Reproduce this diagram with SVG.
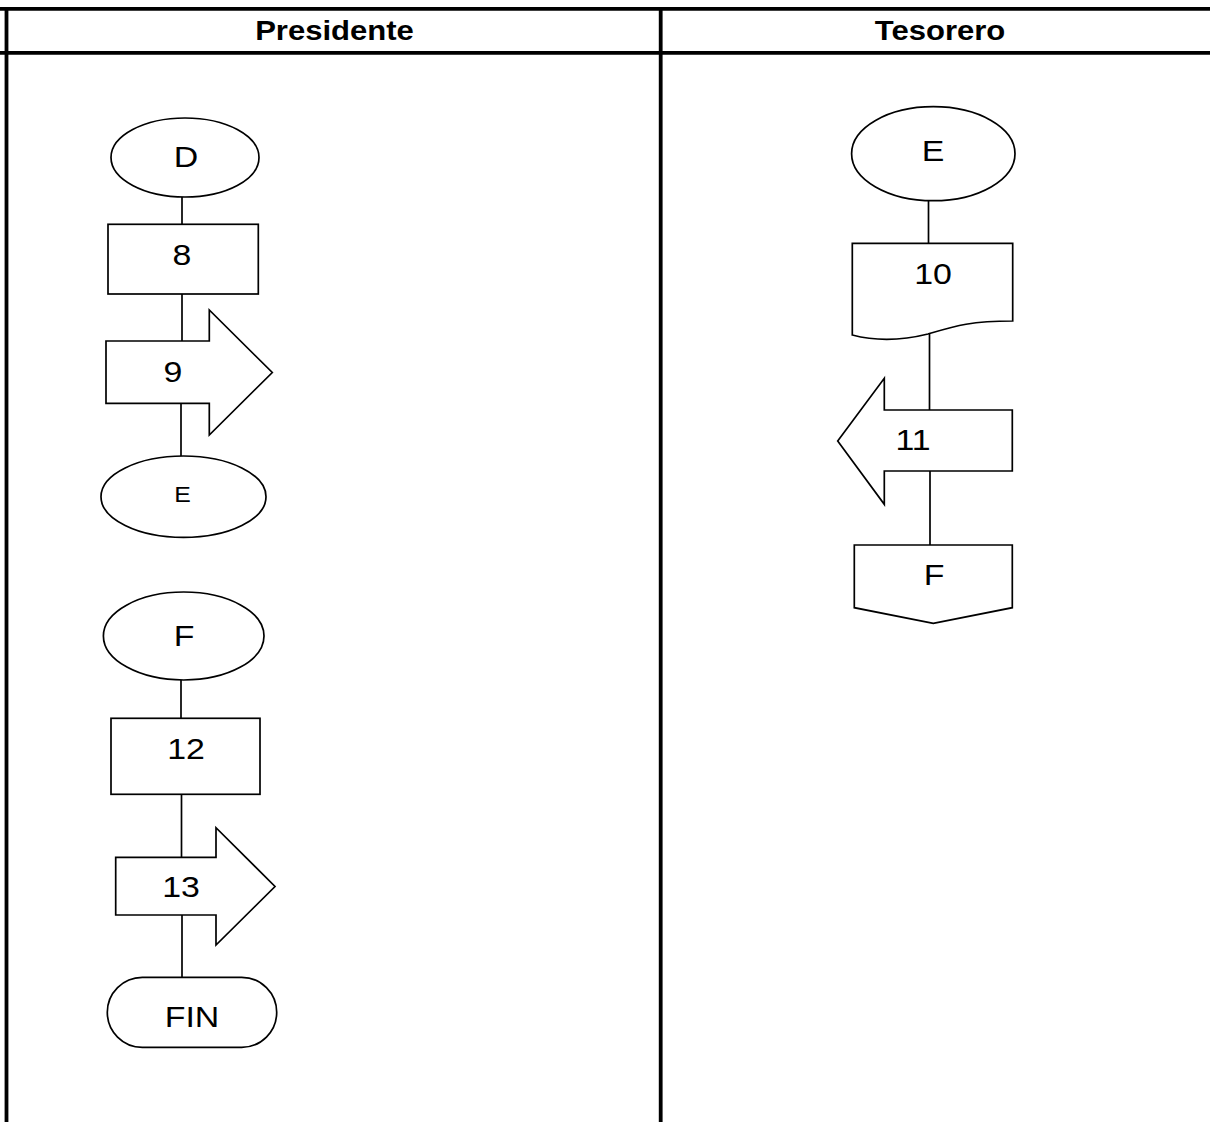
<svg xmlns="http://www.w3.org/2000/svg" width="1210" height="1122" viewBox="0 0 1210 1122">
<style>
.frame{stroke:#000;stroke-width:3.8;fill:none}
.shape{fill:#fff;stroke:#000;stroke-width:1.7}
.conn{stroke:#000;stroke-width:1.7;fill:none}
.hd{font-family:"Liberation Sans",Arial,sans-serif;font-weight:bold;font-size:27px;text-anchor:middle;fill:#000}
.lb{font-family:"Liberation Sans",Arial,sans-serif;font-size:30px;text-anchor:middle;fill:#000}
.sm{font-family:"Liberation Sans",Arial,sans-serif;font-size:22px;text-anchor:middle;fill:#000}
</style>
<rect width="1210" height="1122" fill="#fff"/>
<g id="swimlanes">
<line class="frame" x1="0" y1="8.8" x2="1210" y2="8.8"/>
<line class="frame" x1="0" y1="52.8" x2="1210" y2="52.8"/>
<line class="frame" x1="6.5" y1="7" x2="6.5" y2="1122"/>
<line class="frame" x1="660.7" y1="7" x2="660.7" y2="1122"/>
<text class="hd" transform="translate(334.5,40) scale(1.15,1)">Presidente</text>
<text class="hd" transform="translate(940,40) scale(1.15,1)">Tesorero</text>
</g>
<g id="connectors">
<line class="conn" x1="182" y1="197" x2="182" y2="224"/>
<line class="conn" x1="182" y1="294" x2="182" y2="341"/>
<line class="conn" x1="181" y1="403" x2="181" y2="456"/>
<line class="conn" x1="181" y1="680" x2="181" y2="718"/>
<line class="conn" x1="181.5" y1="794" x2="181.5" y2="857"/>
<line class="conn" x1="182" y1="915" x2="182" y2="977"/>
<line class="conn" x1="928.5" y1="200.7" x2="928.5" y2="243.3"/>
<line class="conn" x1="929.5" y1="334" x2="929.5" y2="410"/>
<line class="conn" x1="930" y1="471" x2="930" y2="545"/>
</g>
<g id="node-D">
<ellipse class="shape" cx="185" cy="157.5" rx="74" ry="39.5"/>
<text class="lb" transform="translate(186,167) scale(1.13,1)">D</text>
</g>
<g id="node-8">
<rect class="shape" x="108" y="224.3" width="150.3" height="69.7"/>
<text class="lb" transform="translate(182,265) scale(1.13,1)">8</text>
</g>
<g id="node-9">
<polygon class="shape" points="106,341 209.3,341 209.3,310 272.3,372.5 209.3,435 209.3,403.3 106,403.3"/>
<text class="lb" transform="translate(173,382) scale(1.13,1)">9</text>
</g>
<g id="node-E-left">
<ellipse class="shape" cx="183.5" cy="496.7" rx="82.5" ry="40.7"/>
<text class="sm" transform="translate(182.5,502) scale(1.13,1)">E</text>
</g>
<g id="node-F-left">
<ellipse class="shape" cx="183.7" cy="636" rx="80.3" ry="44"/>
<text class="lb" transform="translate(184,646) scale(1.13,1)">F</text>
</g>
<g id="node-12">
<rect class="shape" x="111" y="718.3" width="149" height="76"/>
<text class="lb" transform="translate(186,759) scale(1.13,1)">12</text>
</g>
<g id="node-13">
<polygon class="shape" points="115.7,857.3 216,857.3 216,827.7 275,886.5 216,945 216,915 115.7,915"/>
<text class="lb" transform="translate(181,897) scale(1.13,1)">13</text>
</g>
<g id="node-FIN">
<rect class="shape" x="107.3" y="977.3" width="169.4" height="70" rx="35" ry="35"/>
<text class="lb" transform="translate(192,1027) scale(1.13,1)">FIN</text>
</g>
<g id="node-E-right">
<ellipse class="shape" cx="933.3" cy="153.7" rx="81.7" ry="47"/>
<text class="lb" transform="translate(933,161) scale(1.13,1)">E</text>
</g>
<g id="node-10">
<path class="shape" d="M852.3,243.3 H1012.7 V321 C970,321 955,326 928,334 C900,341 875,341 852.3,335 Z"/>
<text class="lb" transform="translate(933,284) scale(1.13,1)">10</text>
</g>
<g id="node-11">
<polygon class="shape" points="1012.3,410 884.3,410 884.3,378.3 837.7,441 884.3,504.3 884.3,471 1012.3,471"/>
<text class="lb" transform="translate(913,450) scale(1.13,1)">11</text>
</g>
<g id="node-F-right">
<polygon class="shape" points="854.3,545 1012.3,545 1012.3,607.7 933.3,623.3 854.3,607.7"/>
<text class="lb" transform="translate(934,585) scale(1.13,1)">F</text>
</g>
</svg>
